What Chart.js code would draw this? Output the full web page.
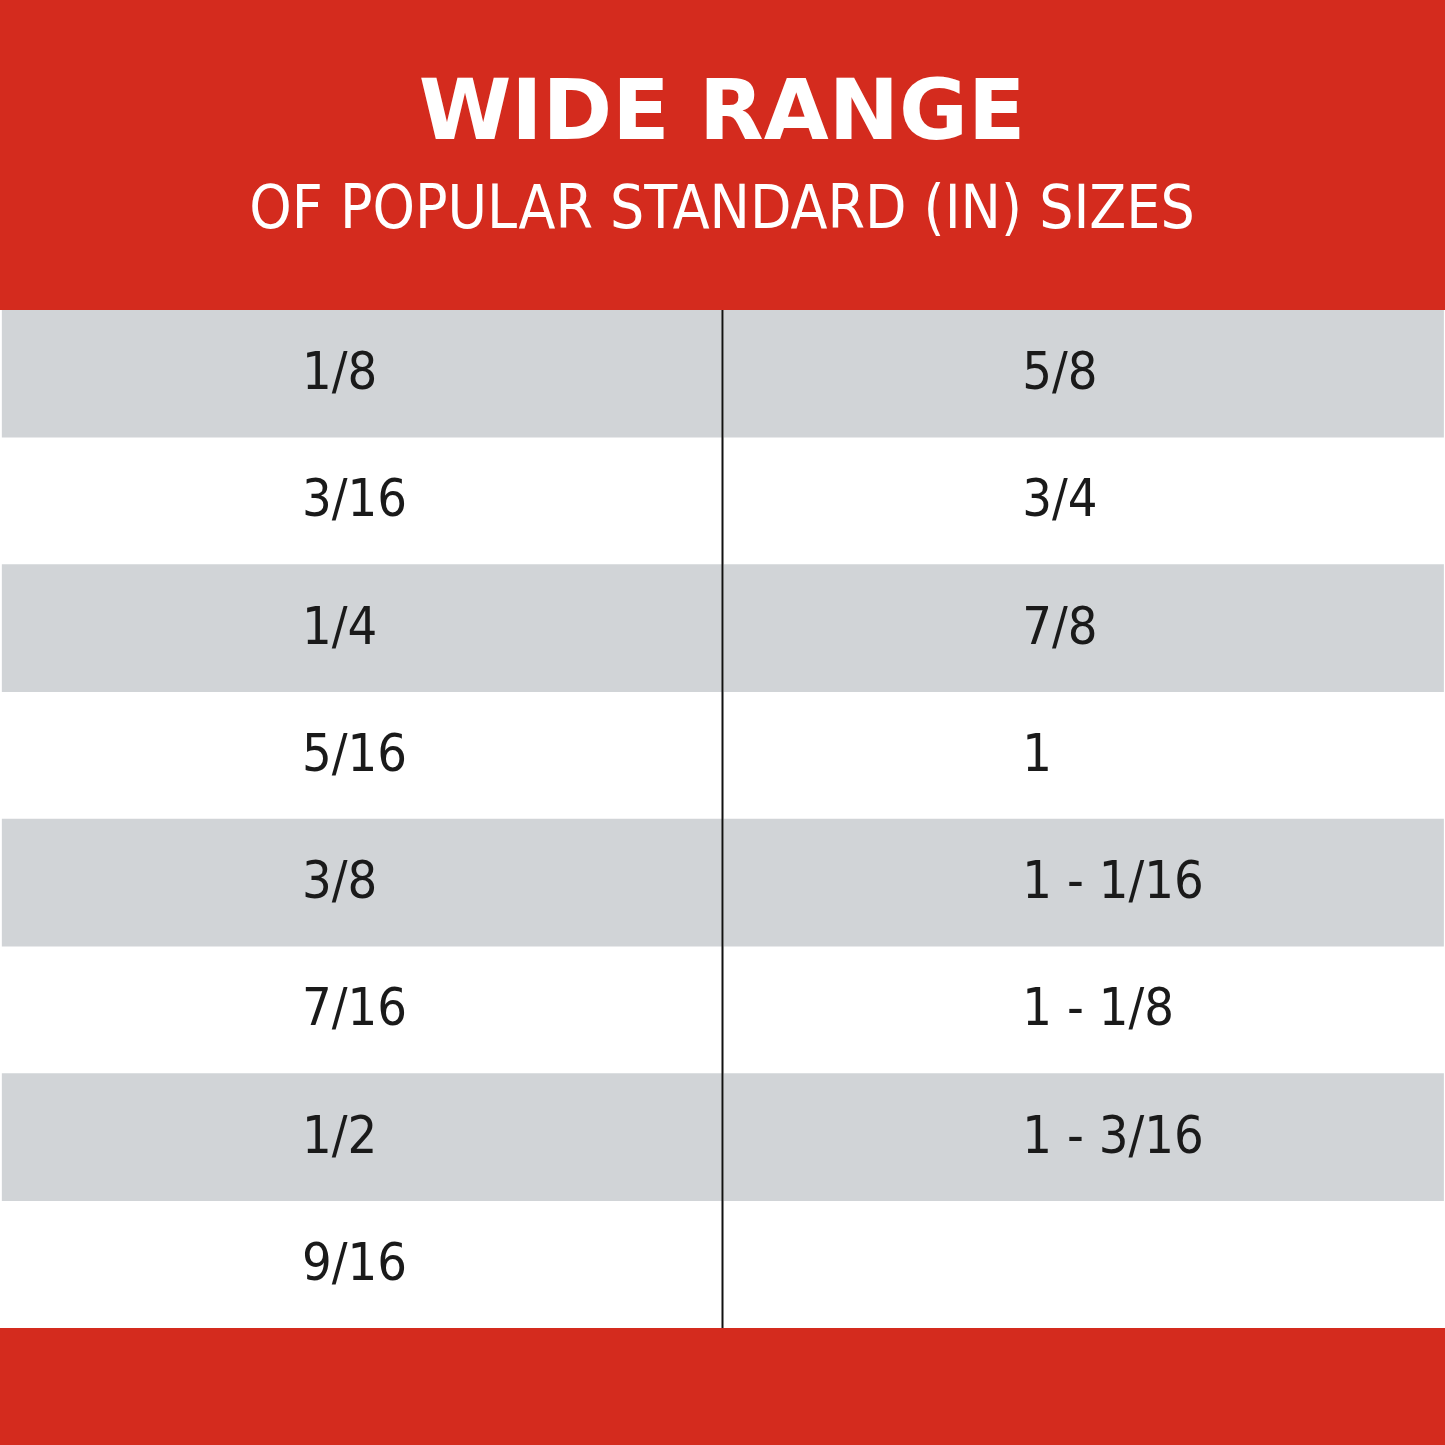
<!DOCTYPE html>
<html><head><meta charset="utf-8">
<script src="https://cdn.jsdelivr.net/npm/chart.js"></script>
<style>html,body{margin:0;padding:0;background:#fff;overflow:hidden}</style>
</head><body>
<canvas id="c" width="1445" height="1445"></canvas>
<script>
const title = "WIDE RANGE";
const subtitle = "OF POPULAR STANDARD (IN) SIZES";
const rows = ["r1","r2","r3","r4","r5","r6","r7","r8"];
const leftSizes = ["1/8","3/16","1/4","5/16","3/8","7/16","1/2","9/16"];
const rightSizes = ["5/8","3/4","7/8","1","1 - 1/16","1 - 1/8","1 - 3/16",""];
const shaded = [true,false,true,false,true,false,true,false];

const RED = "#d42b1e", GRAY = "#d1d4d7";
const leftBars = shaded.map(s => s ? [0.003, 0.999] : null);
const rightBars = shaded.map(s => s ? [1.002, 1.998] : null);

const tablePlugin = {
  id: "tablePlugin",
  beforeDraw(chart) {
    const {ctx, chartArea: a} = chart;
    ctx.save();
    ctx.fillStyle = RED; ctx.fillRect(0, 0, chart.width, chart.height);
    ctx.fillStyle = "#fff"; ctx.fillRect(0, a.top, chart.width, a.bottom - a.top);
    ctx.fillStyle = "#fff"; ctx.textAlign = "center"; ctx.textBaseline = "alphabetic";
    ctx.font = "bold 84px 'DejaVu Sans'";
    ctx.fillText(title, 722, 139);
    ctx.font = "60px 'DejaVu Sans Condensed'";
    ctx.fillText(subtitle, 722, 228);
    ctx.restore();
  },
  afterDatasetsDraw(chart) {
    const {ctx, chartArea: a, scales: {x, y}} = chart;
    ctx.save();
    ctx.strokeStyle = "#111"; ctx.lineWidth = 2;
    const lx = x.getPixelForValue(1);
    ctx.beginPath(); ctx.moveTo(lx, a.top); ctx.lineTo(lx, a.bottom); ctx.stroke();
    ctx.fillStyle = "#1a1a1a"; ctx.font = "52px 'DejaVu Sans Condensed'";
    ctx.textBaseline = "middle"; ctx.textAlign = "left";
    rows.forEach((r, i) => {
      const py = y.getPixelForValue(i) + 2;
      ctx.fillText(leftSizes[i], x.getPixelForValue(0.418), py);
      ctx.fillText(rightSizes[i], x.getPixelForValue(1.415), py);
    });
    ctx.restore();
  }
};

new Chart(document.getElementById("c"), {
  type: "bar",
  data: {
    labels: rows,
    datasets: [
      {data: leftBars, backgroundColor: GRAY, barPercentage: 1, categoryPercentage: 1, grouped: false},
      {data: rightBars, backgroundColor: GRAY, barPercentage: 1, categoryPercentage: 1, grouped: false}
    ]
  },
  options: {
    indexAxis: "y", responsive: false, animation: false, devicePixelRatio: 1,
    layout: {padding: {top: 310, bottom: 117, left: 0, right: 0}},
    scales: {
      x: {type: "linear", min: 0, max: 2, display: false},
      y: {type: "category", display: false, offset: true}
    },
    plugins: {legend: {display: false}, tooltip: {enabled: false}}
  },
  plugins: [tablePlugin]
});
</script>
</body></html>
